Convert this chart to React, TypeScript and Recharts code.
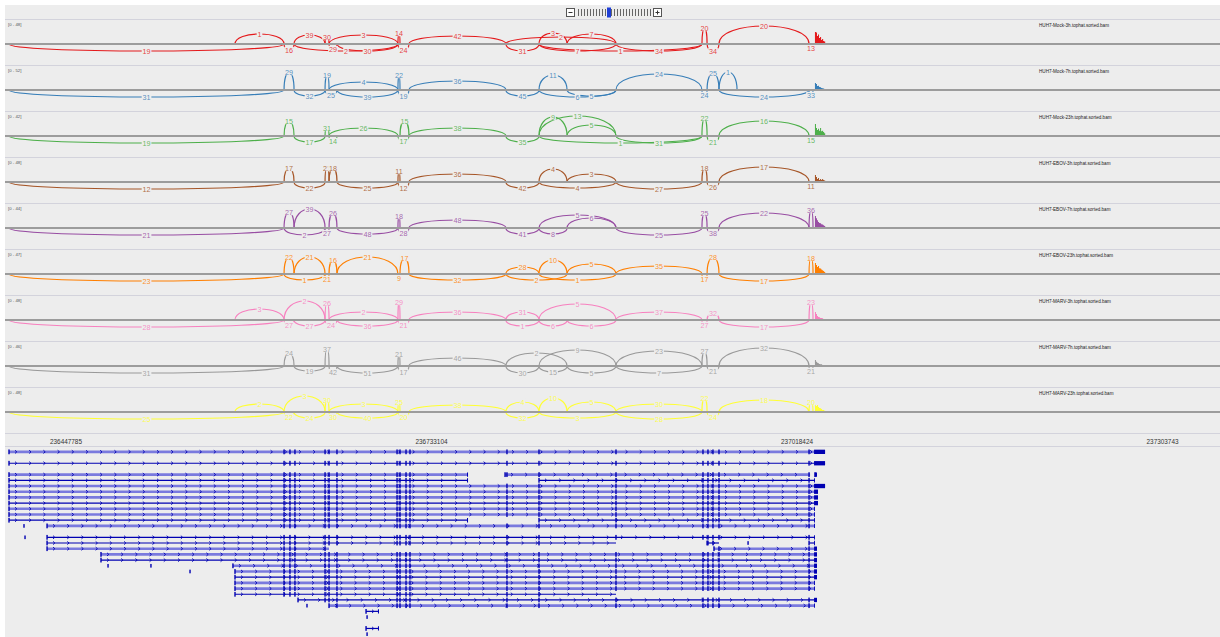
import React from 'react'
import { ComposedChart, Area, XAxis, YAxis, ReferenceArea, ReferenceLine } from 'recharts'

const X_MIN = 236400170
const X_MAX = 237348580
const RULER_TICKS = [236447785, 236733104, 237018424, 237303743]
const BG = '#ededed'

// splice sites (genomic position), referenced by index in the junction tables
const SITES = [
  236403300, 236579700, 236618000, 236625800, 236650000, 236653100, 236659300,
  236706900, 236708500, 236715500, 236791200, 236817000, 236838900, 236877100,
  236944200, 236948200, 236957500, 236971600, 237027800, 237030900,
]

const SAMPLE_NAMES = [
  'HUH7-Mock-3h.tophat.sorted.bam',
  'HUH7-Mock-7h.tophat.sorted.bam',
  'HUH7-Mock-23h.tophat.sorted.bam',
  'HUH7-EBOV-3h.tophat.sorted.bam',
  'HUH7-EBOV-7h.tophat.sorted.bam',
  'HUH7-EBOV-23h.tophat.sorted.bam',
  'HUH7-MARV-3h.tophat.sorted.bam',
  'HUH7-MARV-7h.tophat.sorted.bam',
  'HUH7-MARV-23h.tophat.sorted.bam',
]
const SAMPLE_COLORS = ['#e41a1c', '#377eb8', '#4daf4a', '#a65628', '#984ea3', '#ff7f00', '#f781bf', '#999999', '#ffff33']
const DEPTH_RANGES = [48, 52, 42, 48, 44, 47, 48, 46, 48]

// [from site, to site, reads, arc height (+ above the axis, - below)]
const MOCK_3H = [
  [1, 2, 1, 10], [3, 4, 39, 9], [4, 5, 30, 7], [5, 7, 3, 9], [7, 8, 14, 11], [9, 10, 42, 8],
  [10, 13, 2, 7], [11, 12, 3, 11], [12, 13, 7, 10], [14, 15, 20, 16], [16, 18, 20, 18],
  [0, 2, 19, -7], [2, 3, 16, -6], [5, 6, 29, -5], [3, 7, 2, -7], [6, 7, 30, -7], [7, 9, 24, -6],
  [10, 11, 31, -7], [11, 13, 7, -7], [11, 14, 1, -7], [13, 14, 34, -7], [15, 16, 34, -7], [18, 19, 13, -4],
]
const MOCK_7H = [
  [2, 3, 29, 18], [4, 5, 19, 15], [5, 7, 4, 8], [7, 8, 22, 15], [9, 10, 36, 9], [11, 12, 11, 15],
  [13, 14, 24, 16], [15, 16, 25, 17], [16, 17, 1, 18],
  [0, 2, 31, -7], [3, 4, 32, -6], [4, 6, 25, -5], [6, 7, 39, -7], [7, 9, 19, -6], [10, 11, 45, -6],
  [11, 13, 6, -7], [12, 13, 5, -6], [14, 15, 24, -5], [16, 18, 24, -7], [18, 19, 33, -5],
]
const MOCK_23H = [
  [2, 3, 15, 15], [4, 5, 31, 8], [5, 7, 26, 8], [8, 9, 15, 15], [9, 10, 38, 8], [11, 12, 9, 19],
  [11, 13, 13, 20], [12, 13, 5, 11], [14, 15, 22, 18], [16, 18, 16, 15],
  [0, 2, 19, -7], [3, 4, 17, -6], [5, 6, 14, -5], [7, 9, 17, -5], [10, 11, 35, -6], [11, 14, 1, -7],
  [13, 14, 31, -7], [15, 16, 21, -6], [18, 19, 15, -4],
]
const EBOV_3H = [
  [2, 3, 17, 14], [4, 5, 21, 14], [5, 6, 18, 14], [7, 8, 11, 11], [9, 10, 36, 8], [11, 12, 4, 13],
  [12, 13, 3, 8], [14, 15, 18, 14], [16, 18, 17, 15],
  [0, 2, 12, -7], [3, 4, 22, -6], [6, 7, 25, -6], [7, 9, 12, -6], [10, 11, 42, -6], [11, 13, 4, -6],
  [13, 14, 27, -7], [15, 16, 26, -5], [18, 19, 11, -4],
]
const EBOV_7H = [
  [2, 3, 27, 16], [3, 4, 39, 19], [5, 6, 26, 15], [7, 8, 18, 12], [9, 10, 48, 8], [11, 13, 5, 13],
  [12, 13, 6, 10], [14, 15, 25, 15], [16, 18, 22, 15], [18, 19, 36, 18],
  [0, 2, 21, -7], [2, 4, 2, -7], [4, 5, 27, -5], [6, 7, 48, -6], [7, 9, 28, -5], [10, 11, 41, -6],
  [11, 12, 8, -6], [13, 14, 25, -7], [15, 16, 38, -5],
]
const EBOV_23H = [
  [2, 3, 22, 17], [3, 4, 21, 17], [5, 6, 16, 14], [6, 7, 21, 17], [8, 9, 17, 16], [10, 11, 28, 7],
  [11, 12, 10, 14], [12, 13, 5, 10], [13, 14, 35, 8], [15, 16, 28, 17], [18, 19, 18, 16],
  [0, 2, 23, -7], [2, 4, 1, -6], [4, 5, 21, -5], [7, 8, 9, -4], [9, 10, 32, -6], [10, 12, 2, -6],
  [11, 13, 1, -6], [14, 15, 17, -5], [16, 18, 17, -7],
]
const MARV_3H = [
  [1, 2, 3, 11], [2, 4, 2, 19], [4, 5, 26, 17], [5, 7, 2, 8], [7, 8, 29, 18], [9, 10, 36, 8],
  [10, 11, 31, 8], [11, 13, 5, 16], [13, 14, 37, 8], [15, 16, 32, 7], [18, 19, 23, 18],
  [0, 2, 28, -7], [2, 3, 27, -5], [3, 4, 27, -6], [4, 6, 24, -5], [6, 7, 36, -6], [7, 9, 21, -5],
  [10, 11, 1, -6], [11, 12, 6, -6], [12, 13, 6, -6], [14, 15, 27, -5], [16, 18, 17, -7],
]
const MARV_7H = [
  [2, 3, 24, 13], [4, 5, 37, 17], [7, 8, 21, 12], [9, 10, 46, 8], [10, 12, 2, 13], [11, 13, 9, 16],
  [13, 14, 23, 15], [14, 15, 27, 15], [16, 18, 32, 18],
  [0, 2, 31, -7], [3, 4, 19, -5], [5, 6, 42, -6], [6, 7, 51, -7], [7, 9, 17, -6], [10, 11, 30, -7],
  [11, 12, 15, -6], [12, 13, 5, -7], [13, 14, 7, -7], [15, 16, 21, -5], [18, 19, 21, -5],
]
const MARV_23H = [
  [1, 2, 2, 8], [2, 4, 3, 16], [4, 5, 30, 12], [5, 7, 3, 8], [7, 8, 25, 10], [9, 10, 38, 7],
  [10, 11, 4, 10], [11, 12, 10, 14], [12, 13, 5, 10], [13, 14, 30, 8], [14, 15, 22, 14],
  [16, 18, 18, 12], [18, 19, 20, 10],
  [0, 2, 25, -7], [2, 3, 22, -5], [3, 4, 24, -6], [5, 6, 30, -5], [6, 7, 40, -6], [7, 9, 20, -5],
  [10, 11, 32, -6], [11, 13, 3, -6], [13, 14, 28, -7], [15, 16, 24, -5],
]
const JUNCTIONS = [MOCK_3H, MOCK_7H, MOCK_23H, EBOV_3H, EBOV_7H, EBOV_23H, MARV_3H, MARV_7H, MARV_23H]

// read depth over the last exon (3' end pile-up)
const TAIL_POS = [
  237032400, 237033200, 237034000, 237034800, 237035600,
  237036400, 237037200, 237038000, 237038800, 237039600, 237040400,
]
const TAIL_DEPTH = [
  [48, 46, 32, 38, 24, 28, 16, 20, 12, 10],
  [30, 26, 17, 18, 13, 12, 9, 8, 7, 4],
  [42, 28, 21, 25, 18, 28, 17, 18, 14, 10],
  [28, 20, 12, 16, 8, 12, 8, 12, 8, 6],
  [44, 36, 28, 22, 18, 17, 14, 13, 10, 7],
  [43, 35, 27, 31, 23, 22, 18, 15, 12, 8],
  [32, 24, 16, 12, 11, 8, 8, 7, 4, 4],
  [23, 16, 12, 11, 8, 7, 7, 4, 4, 3],
  [32, 24, 28, 20, 16, 15, 12, 8, 8, 5],
]

// gene models: [row, start, end, last exon start, non-coding]
const TRANSCRIPTS = [
  [0, 236403300, 237040300, 237031700, 1],
  [2, 236403300, 237040300, 237031700, 0],
  [4, 236403300, 236761600, 236760800, 1],
  [4, 236790500, 237028600, 237028600, 1],
  [4, 237032400, 237034000, 237032400, 1],
  [5, 236403300, 236761600, 236760800, 0],
  [5, 236817000, 237032400, 237031700, 0],
  [6, 236403300, 237040300, 237031700, 1],
  [7, 236403300, 237034800, 237031700, 1],
  [8, 236403300, 237034800, 237031700, 1],
  [9, 236403300, 237034800, 237031700, 0],
  [10, 236403300, 237032400, 237031700, 1],
  [11, 236403300, 237032400, 237031700, 1],
  [12, 236403300, 236761600, 236760800, 0],
  [12, 236817000, 237032400, 237031700, 0],
  [13, 236433000, 237032400, 237031700, 1],
  [15, 236433000, 237032400, 237031700, 0],
  [16, 236433000, 236877100, 236877100, 0],
  [16, 236948200, 236957500, 236957500, 0],
  [16, 237027800, 237032400, 237031700, 0],
  [17, 236433000, 236653100, 236653100, 1],
  [17, 236953600, 237034000, 237031700, 1],
  [18, 236475100, 237034000, 237031700, 1],
  [19, 236475100, 237034000, 237031700, 0],
  [20, 236578100, 237034000, 237031700, 1],
  [21, 236579700, 237034000, 237031700, 1],
  [22, 236579700, 237034000, 237031700, 0],
  [23, 236579700, 237032400, 237031700, 1],
  [24, 236579700, 237032400, 237031700, 1],
  [25, 236579700, 236877100, 236877100, 0],
  [26, 236628900, 237034000, 237031700, 0],
  [27, 236653100, 237032400, 237031700, 1],
  [28, 236682000, 236692100, 236691300, 0],
  [31, 236682000, 236692100, 236691300, 0],
]
const GENE_EXONS = [
  236618000, 236622600, 236626500, 236650000, 236653100, 236659300, 236706200, 236708500,
  236713200, 236716300, 236792000, 236817000, 236877100, 236945000, 236948900, 236952800,
  236957500, 237027800,
]
// single-exon fragments: [row, position]
const FRAGMENTS = [
  [13, 236415000], [15, 236415800], [16, 236980200], [20, 236480600], [20, 236514100],
  [21, 236544600], [27, 236635900], [29, 236682800], [32, 236682800],
]

const FONT = '"Liberation Sans", Arial, sans-serif'
const GENE_BLUE = '#0000b2'

const arcShape = (color: string, up: boolean) => (p: any) => {
  const { x, y, width, height } = p
  const base = up ? y + height : y
  const bend = (up ? -height : height) / 0.75
  return (
    <path
      d={`M${x},${base}C${x},${base + bend} ${x + width},${base + bend} ${x + width},${base}`}
      fill="none"
      stroke={color}
      strokeWidth={1.2}
    />
  )
}

const labelShape = (color: string, up: boolean, reads: number) => (p: any) => {
  const { x, y, width, height } = p
  const cx = x + width / 2
  const cy = up ? y : y + height
  const txt = String(reads)
  const w = txt.length * 4.1 + 1.5
  return (
    <g>
      <rect x={cx - w / 2} y={cy - 3.2} width={w} height={6.4} fill={BG} />
      <text x={cx} y={cy} dy="0.35em" textAnchor="middle" fontSize={7.2} fontFamily={FONT} fill={color} fillOpacity={0.85}>
        {txt}
      </text>
    </g>
  )
}

function SashimiTrack({ idx }: { idx: number }) {
  const color = SAMPLE_COLORS[idx]
  const range = DEPTH_RANGES[idx]
  const coverage = [
    { pos: X_MIN, depth: 0 },
    ...TAIL_DEPTH[idx].map((d, i) => ({ pos: TAIL_POS[i], depth: d })),
    { pos: TAIL_POS[TAIL_POS.length - 1], depth: 0 },
    { pos: X_MAX, depth: 0 },
  ]
  const juncs = JUNCTIONS[idx]
  return (
    <div style={{ position: 'absolute', left: 0, top: 20 + idx * 46, width: 1220, height: 46 }}>
      <ComposedChart width={1220} height={46} data={coverage} margin={{ top: 0, right: 0, bottom: 0, left: 5 }}>
        <XAxis type="number" dataKey="pos" domain={[X_MIN, X_MAX]} hide allowDataOverflow />
        <YAxis yAxisId="arc" type="number" domain={[-22, 24]} hide allowDataOverflow />
        <YAxis yAxisId="cov" type="number" domain={[(-range * 22) / 12, range * 2]} hide allowDataOverflow />
        <ReferenceLine yAxisId="arc" y={0} stroke="#9c9c9c" strokeWidth={2} />
        <Area
          yAxisId="cov"
          type="stepAfter"
          dataKey="depth"
          stroke="none"
          fill={color}
          fillOpacity={1}
          baseValue={0}
          isAnimationActive={false}
        />
        {juncs.map(([a, b, , lift], i) => (
          <ReferenceArea
            key={`a${i}`}
            yAxisId="arc"
            x1={SITES[a]}
            x2={SITES[b]}
            y1={0}
            y2={lift}
            ifOverflow="visible"
            shape={arcShape(color, lift > 0)}
          />
        ))}
        {juncs.map(([a, b, reads, lift], i) => (
          <ReferenceArea
            key={`l${i}`}
            yAxisId="arc"
            x1={SITES[a]}
            x2={SITES[b]}
            y1={0}
            y2={lift}
            ifOverflow="visible"
            shape={labelShape(color, lift > 0, reads)}
          />
        ))}
      </ComposedChart>
      <span style={{ position: 'absolute', left: 8, top: 2, fontSize: 4.3, fontFamily: FONT, color: '#555' }}>
        [0 - {range}]
      </span>
      <span style={{ position: 'absolute', left: 1039, top: 2.5, fontSize: 4.6, fontFamily: FONT, color: '#222' }}>
        {SAMPLE_NAMES[idx]}
      </span>
    </div>
  )
}

const transcriptShape = (nonCoding: boolean) => (p: any) => {
  const { x, y, width, height } = p
  const cy = y + height / 2
  const arrows: number[] = []
  for (let a = x + 7; a < x + width - 3; a += 14.2) arrows.push(a)
  return (
    <g>
      <line
        x1={x}
        x2={x + width}
        y1={cy}
        y2={cy}
        stroke={nonCoding ? '#7a7ade' : GENE_BLUE}
        strokeWidth={nonCoding ? 2.6 : 1.2}
      />
      {arrows.map((a) => (
        <path key={a} d={`M${a - 1},${cy - 1.6}L${a + 0.8},${cy}L${a - 1},${cy + 1.6}`} stroke={GENE_BLUE} fill="none" strokeWidth={0.9} />
      ))}
    </g>
  )
}

const barShape = (p: any) => (
  <rect x={p.x + p.width / 2 - 0.7} y={p.y} width={1.4} height={p.height} fill={GENE_BLUE} />
)

function GeneTrack() {
  const marks: { row: number; pos: number }[] = []
  TRANSCRIPTS.forEach(([row, start, end]) => {
    marks.push({ row, pos: start })
    GENE_EXONS.forEach((e) => {
      if (e > start && e < end) marks.push({ row, pos: e })
    })
  })
  return (
    <div style={{ position: 'absolute', left: 0, top: 449, width: 1220, height: 188 }}>
      <ComposedChart
        width={1220}
        height={188}
        data={[{ pos: X_MIN }, { pos: X_MAX }]}
        margin={{ top: 0, right: 0, bottom: 0, left: 5 }}
      >
        <XAxis type="number" dataKey="pos" domain={[X_MIN, X_MAX]} hide allowDataOverflow />
        <YAxis type="number" domain={[-0.5, 32.5]} reversed hide allowDataOverflow />
        {TRANSCRIPTS.map(([row, start, end, , nc], i) => (
          <ReferenceArea key={`t${i}`} x1={start} x2={end} y1={row - 0.3} y2={row + 0.3} ifOverflow="visible" shape={transcriptShape(nc === 1)} />
        ))}
        {TRANSCRIPTS.filter(([, , end, last]) => end > last).map(([row, , end, last], i) => (
          <ReferenceArea key={`b${i}`} x1={last} x2={end} y1={row - 0.38} y2={row + 0.38} fill={GENE_BLUE} fillOpacity={1} stroke="none" ifOverflow="visible" />
        ))}
        {marks.map((m, i) => (
          <ReferenceArea key={`e${i}`} x1={m.pos - 300} x2={m.pos + 300} y1={m.row - 0.42} y2={m.row + 0.42} ifOverflow="visible" shape={barShape} />
        ))}
        {FRAGMENTS.map(([row, pos], i) => (
          <ReferenceArea key={`f${i}`} x1={pos - 300} x2={pos + 300} y1={row - 0.32} y2={row + 0.32} ifOverflow="visible" shape={barShape} />
        ))}
      </ComposedChart>
    </div>
  )
}

function Ruler() {
  return (
    <div style={{ position: 'absolute', left: 0, top: 420, width: 1220, height: 30 }}>
      <ComposedChart width={1220} height={30} data={[{ pos: X_MIN }, { pos: X_MAX }]} margin={{ top: 0, right: 0, bottom: 0, left: 5 }}>
        <XAxis
          type="number"
          dataKey="pos"
          domain={[X_MIN, X_MAX]}
          ticks={RULER_TICKS}
          height={14}
          axisLine={false}
          tickLine={false}
          tickSize={0}
          tickMargin={3}
          interval={0}
          allowDataOverflow
          tick={{ fontSize: 6.4, fill: '#333', fontFamily: FONT }}
        />
        <YAxis type="number" domain={[0, 1]} hide />
        <ReferenceLine
          segment={[{ x: RULER_TICKS[0], y: 0 }, { x: X_MAX, y: 0 }]}
          stroke="#111"
          strokeWidth={1}
          ifOverflow="visible"
        />
        {RULER_TICKS.map((t) => (
          <ReferenceLine key={t} segment={[{ x: t, y: 0 }, { x: t, y: 0.17 }]} stroke="#111" strokeWidth={1} />
        ))}
      </ComposedChart>
    </div>
  )
}

function ZoomWidget() {
  const ticks: number[] = []
  for (let x = 578.5; x < 652; x += 3) ticks.push(x)
  return (
    <svg width={1220} height={20} style={{ position: 'absolute', left: 0, top: 2 }}>
      <rect x={566.5} y={6.5} width={8} height={8} fill="#fff" stroke="#555" />
      <line x1={568.5} x2={572.5} y1={10.5} y2={10.5} stroke="#333" />
      {ticks.map((x) => (
        <line key={x} x1={x} x2={x} y1={7} y2={14} stroke="#666" strokeWidth={1} />
      ))}
      <rect x={607} y={5.5} width={4} height={10} fill="#1f3fd6" />
      <rect x={653.5} y={6.5} width={8} height={8} fill="#fff" stroke="#555" />
      <line x1={655.5} x2={659.5} y1={10.5} y2={10.5} stroke="#333" />
      <line x1={657.5} x2={657.5} y1={8.5} y2={12.5} stroke="#333" />
    </svg>
  )
}

export default function App() {
  const seps = [0, 1, 2, 3, 4, 5, 6, 7, 8, 9]
  return (
    <div style={{ position: 'absolute', left: 0, top: 0, width: 1220, height: 637, background: '#fff' }}>
      <div style={{ position: 'absolute', left: 5, top: 5, width: 1215, height: 632, background: BG }} />
      <ZoomWidget />
      {seps.map((k) => (
        <div key={k} style={{ position: 'absolute', left: 5, top: 19 + k * 46, width: 1215, height: 1, background: '#d3d3dc' }} />
      ))}
      <div style={{ position: 'absolute', left: 5, top: 446, width: 1215, height: 1, background: '#d3d3dc' }} />
      {SAMPLE_NAMES.map((_, i) => (
        <SashimiTrack key={i} idx={i} />
      ))}
      <Ruler />
      <GeneTrack />
    </div>
  )
}
